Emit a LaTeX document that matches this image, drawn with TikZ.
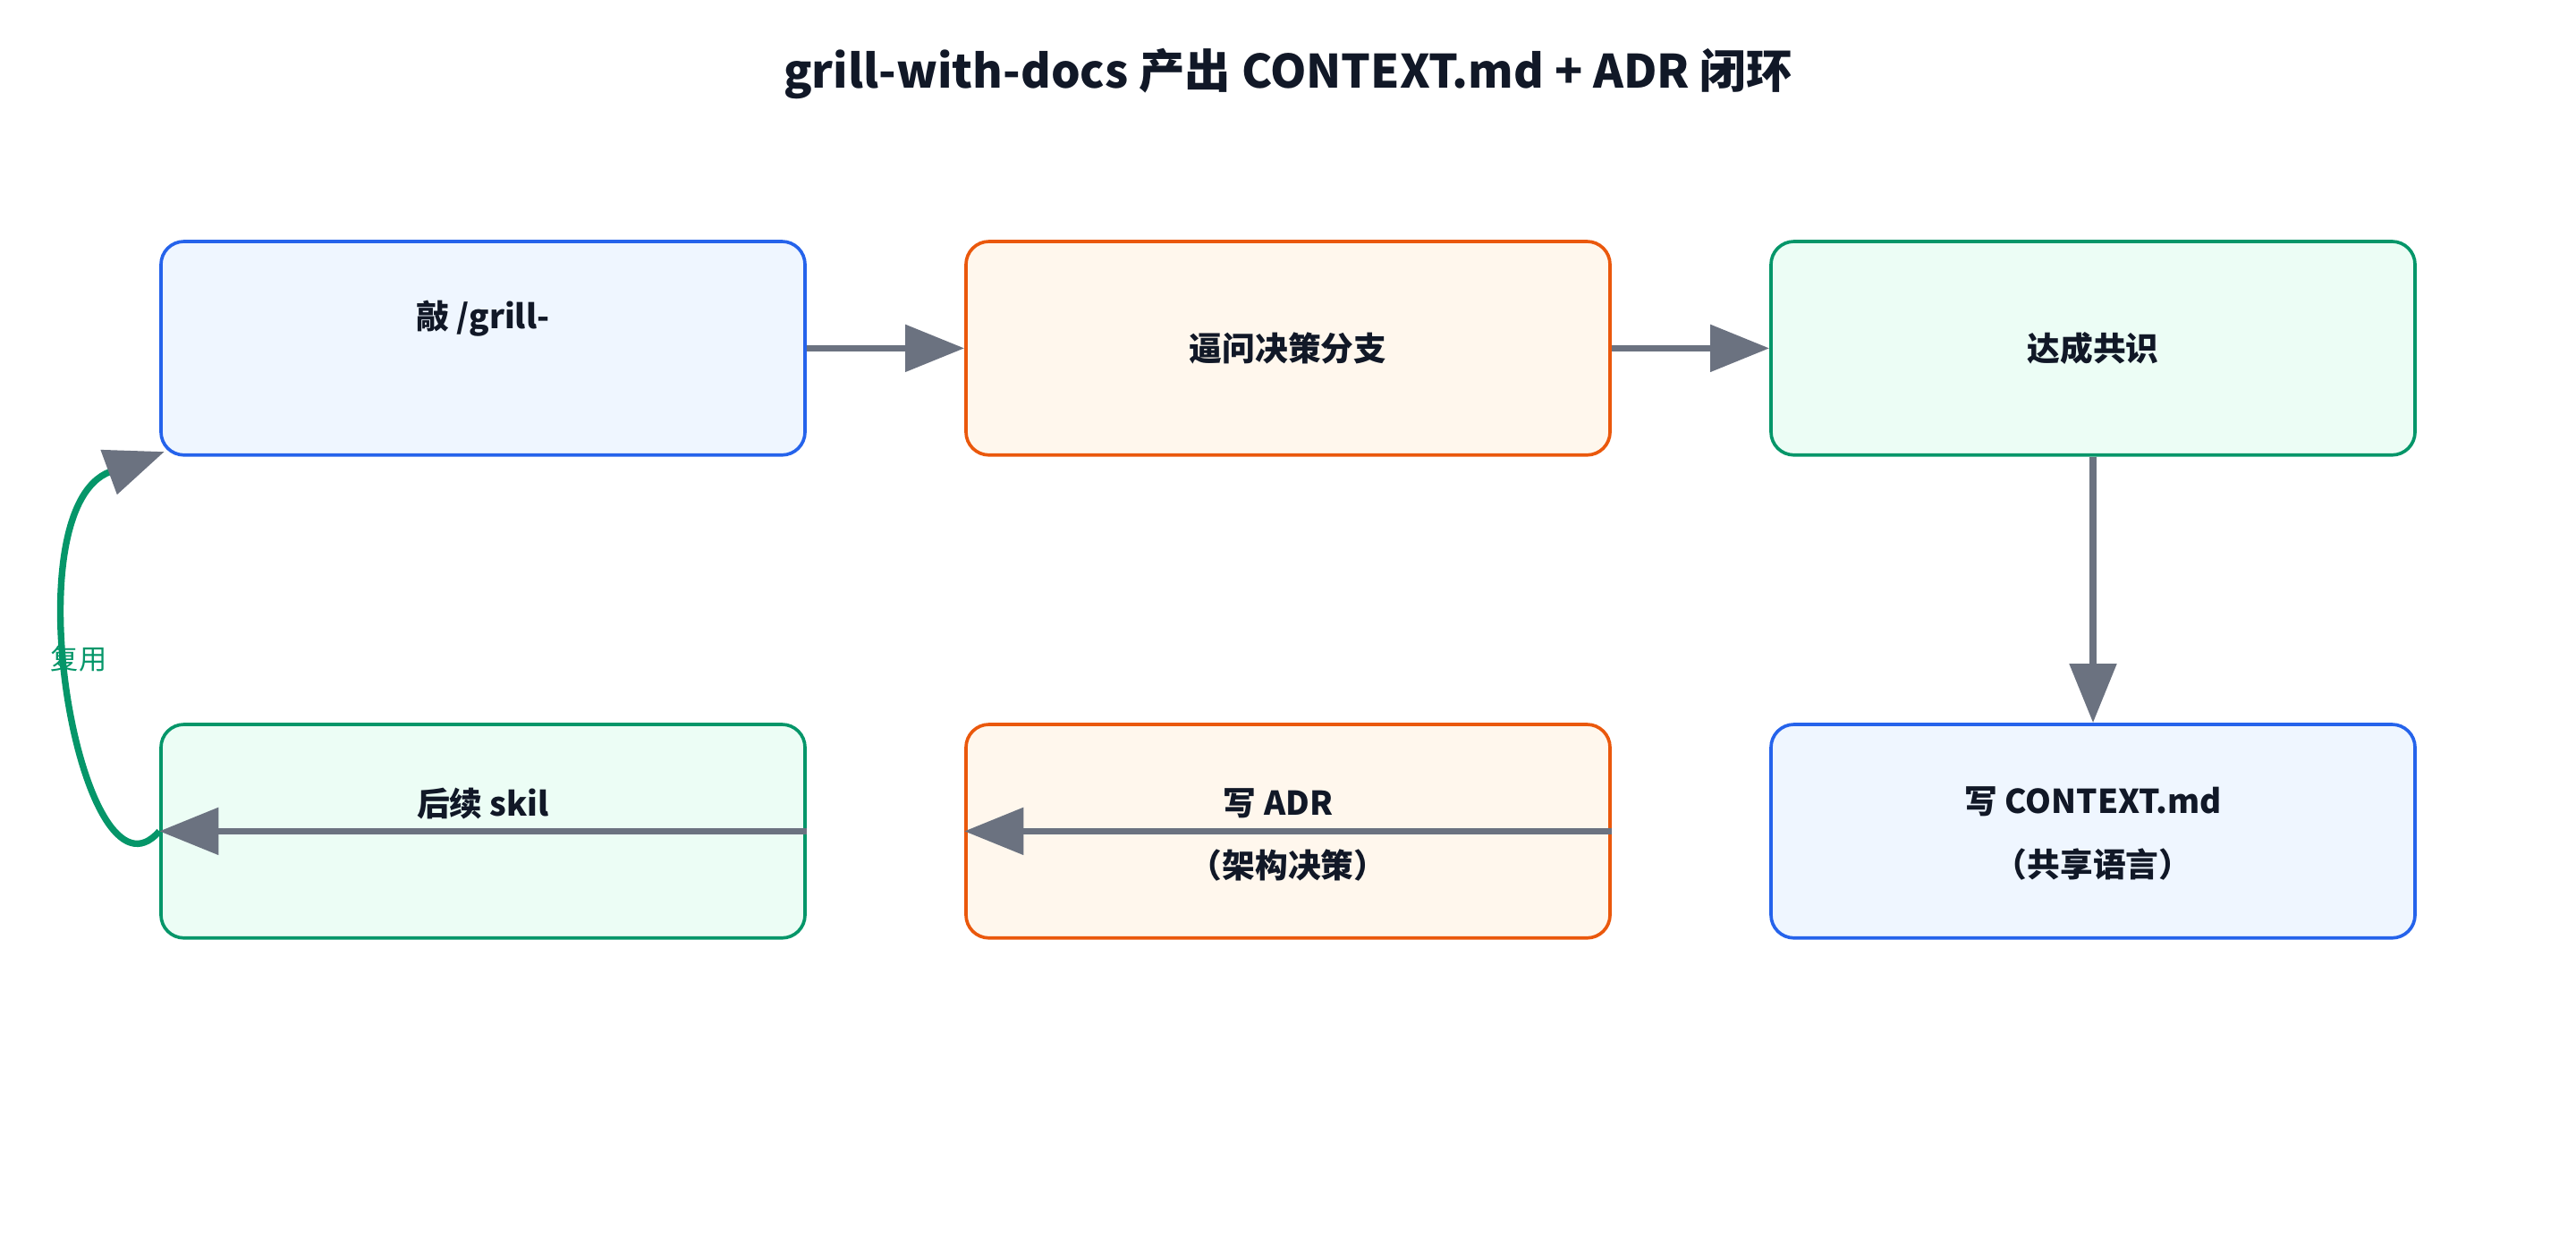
\documentclass[tikz,border=0pt]{standalone}
\usepackage{fontspec}
\setmainfont{Noto Sans CJK SC}
\usetikzlibrary{arrows.meta}
\definecolor{bB}{HTML}{2563EB}\definecolor{fB}{HTML}{EFF6FF}
\definecolor{bO}{HTML}{EA580C}\definecolor{fO}{HTML}{FFF7ED}
\definecolor{bG}{HTML}{059669}\definecolor{fG}{HTML}{ECFDF5}
\definecolor{ar}{HTML}{6B7280}\definecolor{tx}{HTML}{111827}
\begin{document}
\begin{tikzpicture}[x=1pt,y=-1pt,
 box/.style={draw,line width=2pt,rounded corners=14pt,minimum width=392pt,minimum height=130pt,inner sep=0pt},
 lbl/.style={font=\fontsize{20}{24}\selectfont\bfseries,text=tx,align=center},
 arr/.style={draw=ar,line width=4pt,-{Triangle[length=36pt,width=28pt]}}]
\useasboundingbox (0,0) rectangle (1568,752);
\node[font=\fontsize{28}{34}\selectfont\bfseries,text=tx] (t) at (784,45) {grill-with-docs 产出 CONTEXT.md + ADR 闭环};
\node[box,draw=bB,fill=fB] (a) at (294,212) {};
\node[box,draw=bO,fill=fO] (b) at (784,212) {};
\node[box,draw=bG,fill=fG] (c) at (1274,212) {};
\node[box,draw=bB,fill=fB] (d) at (1274,506) {};
\node[box,draw=bO,fill=fO] (e) at (784,506) {};
\node[box,draw=bG,fill=fG] (f) at (294,506) {};
\node[lbl] (ta) at (294,194) {敲 /grill-};
\node[lbl] (tb) at (784,212) {逼问决策分支};
\node[lbl] (tc) at (1274,212) {达成共识};
\node[lbl] (td1) at (1274,488) {写 CONTEXT.md};
\node[lbl] (td2) at (1274,526) {（共享语言）};
\node[lbl] (te1) at (778,489) {写 ADR};
\node[lbl] (te2) at (784,527) {（架构决策）};
\node[lbl] (tf) at (294,489) {后续 skil};
\draw[arr] (a.east) -- (b.west);
\draw[arr] (b.east) -- (c.west);
\draw[arr] (c.south) -- (d.north);
\draw[arr] (e.east) -- (e.west);
\draw[arr] (f.east) -- (f.west);
\coordinate (g) at (100,275);
\draw[draw=bG,line width=4pt,-{Triangle[length=36pt,width=28pt,color=ar]}] (f.west) .. controls (50,560) and (5,310) .. (g);
\node[text=bG,font=\fontsize{17}{20}\selectfont] (r) at (48,401) {复用};
\end{tikzpicture}
\end{document}
